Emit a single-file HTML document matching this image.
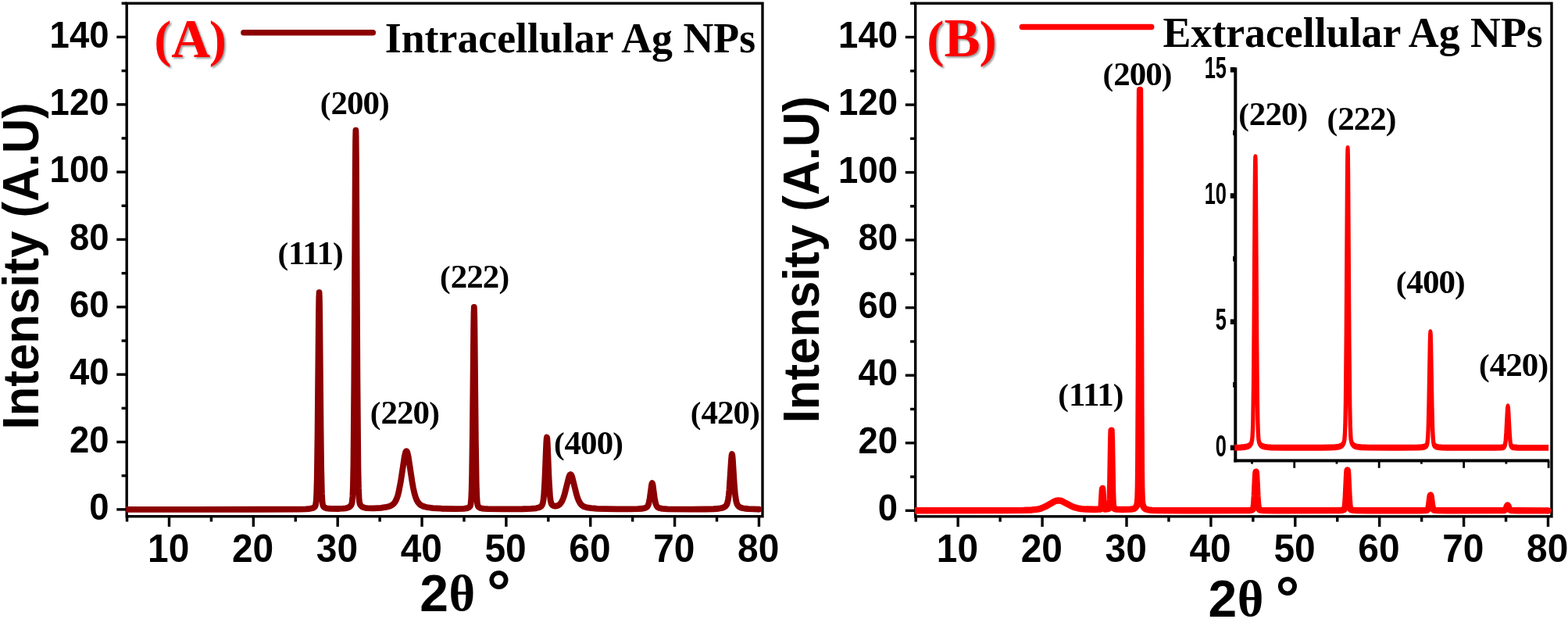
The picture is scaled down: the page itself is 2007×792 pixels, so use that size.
<!DOCTYPE html>
<html><head><meta charset="utf-8"><title>XRD patterns of Ag NPs</title>
<style>html,body{margin:0;padding:0;background:#fff;overflow:hidden;} svg{display:block;}</style></head>
<body>
<svg width="2007" height="792" viewBox="0 0 2007 792">
<defs><filter id="shadowblur" x="-10%" y="-10%" width="120%" height="120%"><feGaussianBlur stdDeviation="0.9"/></filter></defs>
<rect width="2007" height="792" fill="#fff"/>
<g stroke="#000" stroke-width="3.4" fill="none" stroke-linecap="butt">
<rect x="162.20" y="4.23" width="813.80" height="656.48"/>
<line x1="216.50" y1="660.7" x2="216.50" y2="673.9000000000001"/>
<line x1="324.35" y1="660.7" x2="324.35" y2="673.9000000000001"/>
<line x1="432.20" y1="660.7" x2="432.20" y2="673.9000000000001"/>
<line x1="540.05" y1="660.7" x2="540.05" y2="673.9000000000001"/>
<line x1="647.90" y1="660.7" x2="647.90" y2="673.9000000000001"/>
<line x1="755.75" y1="660.7" x2="755.75" y2="673.9000000000001"/>
<line x1="863.60" y1="660.7" x2="863.60" y2="673.9000000000001"/>
<line x1="971.45" y1="660.7" x2="971.45" y2="673.9000000000001"/>
<line x1="162.57" y1="660.7" x2="162.57" y2="667.5"/>
<line x1="270.42" y1="660.7" x2="270.42" y2="667.5"/>
<line x1="378.27" y1="660.7" x2="378.27" y2="667.5"/>
<line x1="486.12" y1="660.7" x2="486.12" y2="667.5"/>
<line x1="593.98" y1="660.7" x2="593.98" y2="667.5"/>
<line x1="701.83" y1="660.7" x2="701.83" y2="667.5"/>
<line x1="809.67" y1="660.7" x2="809.67" y2="667.5"/>
<line x1="917.52" y1="660.7" x2="917.52" y2="667.5"/>
<line x1="162.2" y1="651.85" x2="149.29999999999998" y2="651.85"/>
<line x1="162.2" y1="565.50" x2="149.29999999999998" y2="565.50"/>
<line x1="162.2" y1="479.15" x2="149.29999999999998" y2="479.15"/>
<line x1="162.2" y1="392.80" x2="149.29999999999998" y2="392.80"/>
<line x1="162.2" y1="306.45" x2="149.29999999999998" y2="306.45"/>
<line x1="162.2" y1="220.10" x2="149.29999999999998" y2="220.10"/>
<line x1="162.2" y1="133.75" x2="149.29999999999998" y2="133.75"/>
<line x1="162.2" y1="47.40" x2="149.29999999999998" y2="47.40"/>
<line x1="162.2" y1="608.68" x2="155.6" y2="608.68"/>
<line x1="162.2" y1="522.33" x2="155.6" y2="522.33"/>
<line x1="162.2" y1="435.98" x2="155.6" y2="435.98"/>
<line x1="162.2" y1="349.63" x2="155.6" y2="349.63"/>
<line x1="162.2" y1="263.28" x2="155.6" y2="263.28"/>
<line x1="162.2" y1="176.93" x2="155.6" y2="176.93"/>
<line x1="162.2" y1="90.58" x2="155.6" y2="90.58"/>
<line x1="162.2" y1="4.23" x2="155.6" y2="4.23"/>
</g>
<path d="M161.28 651.82 L329.85 651.75 L381.83 651.54 L391.54 651.29 L397.15 650.83 L400.71 649.94 L401.89 649.32 L402.86 648.49 L403.51 647.51 L404.05 645.88 L404.70 641.10 L405.24 631.50 L405.78 611.84 L406.53 558.10 L407.93 404.72 L408.26 382.28 L408.58 374.23 L408.90 382.28 L409.23 404.72 L410.52 547.63 L411.17 599.90 L411.92 631.46 L412.36 639.69 L412.79 644.02 L413.54 647.20 L414.19 648.29 L415.05 649.08 L416.35 649.79 L417.96 650.30 L422.60 650.90 L433.93 650.98 L438.78 650.72 L442.45 650.28 L444.93 649.69 L446.87 648.85 L448.38 647.69 L449.46 646.29 L450.10 644.87 L450.64 642.72 L451.40 635.01 L451.94 620.67 L452.48 590.58 L453.34 487.91 L454.74 219.85 L455.06 180.63 L455.39 166.56 L455.60 172.88 L455.93 204.37 L457.44 487.86 L458.41 598.23 L458.95 624.41 L459.59 638.07 L460.03 641.96 L460.56 644.42 L461.32 646.14 L462.51 647.62 L463.80 648.57 L465.42 649.29 L467.47 649.80 L470.06 650.13 L478.04 650.33 L487.53 649.81 L493.89 648.95 L498.74 647.69 L502.09 646.04 L503.49 644.93 L504.68 643.66 L506.29 641.23 L507.69 638.23 L509.10 634.16 L510.39 629.25 L512.98 615.78 L517.83 583.93 L519.02 578.96 L519.67 577.54 L520.21 577.16 L520.74 577.54 L521.39 578.96 L522.58 583.94 L527.54 616.45 L528.94 624.24 L530.34 630.61 L531.85 635.89 L533.47 639.99 L535.20 642.98 L537.25 645.26 L538.97 646.50 L540.91 647.45 L543.39 648.30 L546.31 648.99 L554.07 650.05 L564.96 650.73 L582.22 651.08 L593.76 650.80 L596.78 650.43 L598.94 649.86 L600.55 649.00 L601.63 647.81 L602.06 646.84 L602.50 645.08 L603.14 638.89 L603.68 626.79 L604.11 609.13 L604.87 554.52 L606.16 421.23 L606.49 400.30 L606.81 392.80 L607.13 400.31 L607.46 421.24 L608.86 564.28 L609.72 619.06 L610.26 635.12 L610.80 642.77 L611.23 645.67 L611.66 647.18 L612.31 648.33 L613.17 649.14 L614.79 649.97 L617.05 650.56 L620.07 650.94 L624.39 651.19 L643.26 651.42 L668.82 651.23 L679.39 650.88 L685.97 650.26 L690.18 649.23 L691.69 648.50 L692.87 647.57 L694.06 645.82 L694.92 643.13 L695.57 639.39 L696.22 633.21 L697.30 615.21 L699.24 567.21 L699.67 560.98 L699.99 559.46 L700.32 560.93 L700.75 567.10 L702.69 614.82 L703.98 635.01 L704.74 640.79 L705.60 644.17 L706.14 645.30 L706.79 646.14 L708.51 647.20 L709.91 647.50 L711.53 647.52 L713.15 647.21 L714.66 646.59 L715.85 645.82 L717.03 644.73 L719.19 641.61 L720.91 637.75 L722.64 632.49 L728.14 610.57 L729.22 607.90 L729.76 607.19 L730.30 606.95 L730.84 607.20 L731.38 607.93 L732.45 610.63 L737.85 632.34 L739.46 637.47 L741.08 641.37 L742.92 644.46 L745.07 646.74 L747.66 648.28 L751.11 649.35 L756.72 650.21 L764.49 650.81 L775.27 651.19 L790.05 651.40 L806.12 651.42 L816.36 651.22 L822.29 650.76 L826.07 649.91 L827.58 649.12 L828.66 648.06 L829.63 646.34 L830.38 644.15 L831.78 637.14 L833.94 620.96 L834.37 618.91 L834.80 618.17 L835.24 618.91 L835.67 620.96 L837.82 637.15 L839.23 644.16 L839.98 646.36 L840.95 648.08 L842.14 649.22 L843.76 650.02 L847.75 650.86 L854.32 651.33 L885.28 651.61 L902.43 651.50 L913.10 651.24 L919.90 650.74 L924.43 649.90 L927.45 648.61 L928.53 647.80 L929.50 646.72 L930.25 645.45 L930.90 643.86 L931.98 639.40 L932.73 634.19 L933.49 626.61 L935.97 588.34 L936.51 582.60 L936.94 581.04 L937.37 582.60 L937.80 586.93 L939.74 618.03 L940.82 631.26 L942.11 640.54 L942.76 643.19 L943.62 645.46 L944.70 647.14 L946.21 648.48 L948.15 649.48 L950.74 650.24 L953.87 650.75 L958.08 651.12 L971.45 651.55" fill="none" stroke="#8b0000" stroke-width="7.8" stroke-linejoin="round" stroke-linecap="butt"/>
<circle cx="971.45" cy="651.55" r="3.9" fill="#8b0000"/>
<text x="0" y="0" text-anchor="end" transform="translate(139.50 664.95) scale(0.944 1)" font-family="'Liberation Sans', Arial, sans-serif" font-weight="bold" font-size="48.2" fill="#000">0</text>
<text x="0" y="0" text-anchor="end" transform="translate(139.50 578.60) scale(0.944 1)" font-family="'Liberation Sans', Arial, sans-serif" font-weight="bold" font-size="48.2" fill="#000">20</text>
<text x="0" y="0" text-anchor="end" transform="translate(139.50 492.25) scale(0.944 1)" font-family="'Liberation Sans', Arial, sans-serif" font-weight="bold" font-size="48.2" fill="#000">40</text>
<text x="0" y="0" text-anchor="end" transform="translate(139.50 405.90) scale(0.944 1)" font-family="'Liberation Sans', Arial, sans-serif" font-weight="bold" font-size="48.2" fill="#000">60</text>
<text x="0" y="0" text-anchor="end" transform="translate(139.50 319.55) scale(0.944 1)" font-family="'Liberation Sans', Arial, sans-serif" font-weight="bold" font-size="48.2" fill="#000">80</text>
<text x="0" y="0" text-anchor="end" transform="translate(139.50 233.20) scale(0.944 1)" font-family="'Liberation Sans', Arial, sans-serif" font-weight="bold" font-size="48.2" fill="#000">100</text>
<text x="0" y="0" text-anchor="end" transform="translate(139.50 146.85) scale(0.944 1)" font-family="'Liberation Sans', Arial, sans-serif" font-weight="bold" font-size="48.2" fill="#000">120</text>
<text x="0" y="0" text-anchor="end" transform="translate(139.50 60.50) scale(0.944 1)" font-family="'Liberation Sans', Arial, sans-serif" font-weight="bold" font-size="48.2" fill="#000">140</text>
<text x="0" y="0" text-anchor="middle" transform="translate(215.70 719.00) scale(0.965 1)" font-family="'Liberation Sans', Arial, sans-serif" font-weight="bold" font-size="49.6" fill="#000">10</text>
<text x="0" y="0" text-anchor="middle" transform="translate(323.55 719.00) scale(0.965 1)" font-family="'Liberation Sans', Arial, sans-serif" font-weight="bold" font-size="49.6" fill="#000">20</text>
<text x="0" y="0" text-anchor="middle" transform="translate(431.40 719.00) scale(0.965 1)" font-family="'Liberation Sans', Arial, sans-serif" font-weight="bold" font-size="49.6" fill="#000">30</text>
<text x="0" y="0" text-anchor="middle" transform="translate(539.25 719.00) scale(0.965 1)" font-family="'Liberation Sans', Arial, sans-serif" font-weight="bold" font-size="49.6" fill="#000">40</text>
<text x="0" y="0" text-anchor="middle" transform="translate(647.10 719.00) scale(0.965 1)" font-family="'Liberation Sans', Arial, sans-serif" font-weight="bold" font-size="49.6" fill="#000">50</text>
<text x="0" y="0" text-anchor="middle" transform="translate(754.95 719.00) scale(0.965 1)" font-family="'Liberation Sans', Arial, sans-serif" font-weight="bold" font-size="49.6" fill="#000">60</text>
<text x="0" y="0" text-anchor="middle" transform="translate(862.80 719.00) scale(0.965 1)" font-family="'Liberation Sans', Arial, sans-serif" font-weight="bold" font-size="49.6" fill="#000">70</text>
<text x="0" y="0" text-anchor="middle" transform="translate(970.65 719.00) scale(0.965 1)" font-family="'Liberation Sans', Arial, sans-serif" font-weight="bold" font-size="49.6" fill="#000">80</text>
<text x="0" y="0" transform="translate(49.0 549.5) rotate(-90) scale(0.96 1)" font-family="'Liberation Sans', Arial, sans-serif" font-weight="bold" font-size="64.3">Intensity (A.U)</text>
<text font-family="'Liberation Sans', Arial, sans-serif" font-weight="bold" fill="#000"><tspan x="537.3" y="781.6" font-size="66">2</tspan><tspan x="574.4" y="781.2" font-family="'Liberation Serif', 'Times New Roman', serif" font-size="64.6">θ </tspan><tspan x="623.0" y="784.1" font-size="77">°</tspan></text>
<line x1="311.9" y1="41.8" x2="477.3" y2="41.8" stroke="#8b0000" stroke-width="7.5" stroke-linecap="round"/>
<text x="0" y="0" transform="translate(492.70 67.00) scale(0.97 1)" font-family="'Liberation Serif', 'Times New Roman', serif" font-weight="bold" font-size="55.5" fill="#000">Intracellular Ag NPs</text>
<text font-family="'Liberation Serif', 'Times New Roman', serif" font-weight="bold" fill="#7a7a7a" opacity="0.75" filter="url(#shadowblur)"><tspan x="199.30" y="73.70" font-size="66.5">(</tspan><tspan x="221.30" y="74.50" font-size="69">A</tspan><tspan x="269.75" y="73.70" font-size="66.5">)</tspan></text>
<text font-family="'Liberation Serif', 'Times New Roman', serif" font-weight="bold" fill="#ff0000"><tspan x="197.30" y="71.70" font-size="66.5">(</tspan><tspan x="219.30" y="72.50" font-size="69">A</tspan><tspan x="267.75" y="71.70" font-size="66.5">)</tspan></text>
<text x="0" y="0" text-anchor="middle" transform="translate(397.55 338.30)" font-family="'Liberation Serif', 'Times New Roman', serif" font-weight="bold" font-size="41" fill="#000">(<tspan font-size="43" letter-spacing="-0.95">111</tspan>)</text>
<text x="0" y="0" text-anchor="middle" transform="translate(454.25 145.50)" font-family="'Liberation Serif', 'Times New Roman', serif" font-weight="bold" font-size="41" fill="#000">(<tspan font-size="43" letter-spacing="-0.95">200</tspan>)</text>
<text x="0" y="0" text-anchor="middle" transform="translate(518.30 542.10)" font-family="'Liberation Serif', 'Times New Roman', serif" font-weight="bold" font-size="41" fill="#000">(<tspan font-size="43" letter-spacing="-0.95">220</tspan>)</text>
<text x="0" y="0" text-anchor="middle" transform="translate(607.55 368.00)" font-family="'Liberation Serif', 'Times New Roman', serif" font-weight="bold" font-size="41" fill="#000">(<tspan font-size="43" letter-spacing="-0.95">222</tspan>)</text>
<text x="0" y="0" text-anchor="middle" transform="translate(753.40 581.00)" font-family="'Liberation Serif', 'Times New Roman', serif" font-weight="bold" font-size="41" fill="#000">(<tspan font-size="43" letter-spacing="-0.95">400</tspan>)</text>
<text x="0" y="0" text-anchor="middle" transform="translate(928.30 542.10)" font-family="'Liberation Serif', 'Times New Roman', serif" font-weight="bold" font-size="41" fill="#000">(<tspan font-size="43" letter-spacing="-0.95">420</tspan>)</text>
<g stroke="#000" stroke-width="3.4" fill="none" stroke-linecap="butt">
<rect x="1171.70" y="4.25" width="814.30" height="656.55"/>
<line x1="1226.20" y1="660.8" x2="1226.20" y2="674.0"/>
<line x1="1334.10" y1="660.8" x2="1334.10" y2="674.0"/>
<line x1="1442.00" y1="660.8" x2="1442.00" y2="674.0"/>
<line x1="1549.90" y1="660.8" x2="1549.90" y2="674.0"/>
<line x1="1657.80" y1="660.8" x2="1657.80" y2="674.0"/>
<line x1="1765.70" y1="660.8" x2="1765.70" y2="674.0"/>
<line x1="1873.60" y1="660.8" x2="1873.60" y2="674.0"/>
<line x1="1981.50" y1="660.8" x2="1981.50" y2="674.0"/>
<line x1="1172.25" y1="660.8" x2="1172.25" y2="667.5999999999999"/>
<line x1="1280.15" y1="660.8" x2="1280.15" y2="667.5999999999999"/>
<line x1="1388.05" y1="660.8" x2="1388.05" y2="667.5999999999999"/>
<line x1="1495.95" y1="660.8" x2="1495.95" y2="667.5999999999999"/>
<line x1="1603.85" y1="660.8" x2="1603.85" y2="667.5999999999999"/>
<line x1="1711.75" y1="660.8" x2="1711.75" y2="667.5999999999999"/>
<line x1="1819.65" y1="660.8" x2="1819.65" y2="667.5999999999999"/>
<line x1="1927.55" y1="660.8" x2="1927.55" y2="667.5999999999999"/>
<line x1="1171.7" y1="653.30" x2="1158.8" y2="653.30"/>
<line x1="1171.7" y1="566.76" x2="1158.8" y2="566.76"/>
<line x1="1171.7" y1="480.22" x2="1158.8" y2="480.22"/>
<line x1="1171.7" y1="393.68" x2="1158.8" y2="393.68"/>
<line x1="1171.7" y1="307.14" x2="1158.8" y2="307.14"/>
<line x1="1171.7" y1="220.60" x2="1158.8" y2="220.60"/>
<line x1="1171.7" y1="134.06" x2="1158.8" y2="134.06"/>
<line x1="1171.7" y1="47.52" x2="1158.8" y2="47.52"/>
<line x1="1171.7" y1="610.03" x2="1165.1000000000001" y2="610.03"/>
<line x1="1171.7" y1="523.49" x2="1165.1000000000001" y2="523.49"/>
<line x1="1171.7" y1="436.95" x2="1165.1000000000001" y2="436.95"/>
<line x1="1171.7" y1="350.41" x2="1165.1000000000001" y2="350.41"/>
<line x1="1171.7" y1="263.87" x2="1165.1000000000001" y2="263.87"/>
<line x1="1171.7" y1="177.33" x2="1165.1000000000001" y2="177.33"/>
<line x1="1171.7" y1="90.79" x2="1165.1000000000001" y2="90.79"/>
<line x1="1171.7" y1="4.25" x2="1165.1000000000001" y2="4.25"/>
</g>
<path d="M1170.96 653.27 L1287.49 653.11 L1309.82 652.89 L1320.83 652.48 L1327.95 651.62 L1330.97 650.94 L1333.78 650.07 L1339.17 647.64 L1349.53 641.64 L1352.23 640.64 L1354.82 640.29 L1357.08 640.53 L1359.56 641.31 L1371.97 647.81 L1375.75 649.27 L1379.63 650.32 L1384.38 651.07 L1390.32 651.52 L1401.00 651.77 L1407.90 651.65 L1408.66 651.46 L1409.09 650.93 L1409.63 648.27 L1410.82 627.54 L1411.14 624.96 L1411.46 627.53 L1412.44 645.87 L1412.97 650.22 L1413.41 651.21 L1414.05 651.50 L1416.54 651.46 L1418.48 651.03 L1419.45 650.32 L1419.99 648.84 L1420.42 645.15 L1420.74 638.96 L1421.28 617.56 L1422.15 562.79 L1422.58 550.53 L1423.01 562.80 L1424.20 632.29 L1424.74 645.16 L1425.38 649.69 L1425.81 650.49 L1426.46 650.96 L1427.65 651.36 L1429.38 651.62 L1436.60 651.83 L1446.42 651.66 L1449.66 651.32 L1451.82 650.68 L1453.33 649.67 L1454.52 648.04 L1455.27 646.12 L1455.81 643.76 L1456.46 636.49 L1456.89 620.73 L1457.21 593.05 L1457.75 488.63 L1458.72 157.48 L1459.05 114.82 L1459.48 187.68 L1460.45 516.80 L1460.99 604.64 L1461.31 626.49 L1461.85 640.26 L1462.29 644.03 L1462.82 646.43 L1463.69 648.62 L1464.77 650.14 L1465.74 650.95 L1466.82 651.53 L1469.84 652.34 L1474.59 652.81 L1482.46 653.06 L1514.08 653.23 L1586.80 653.22 L1597.92 653.04 L1600.61 652.84 L1602.45 652.49 L1603.42 651.96 L1604.07 650.92 L1604.61 648.80 L1605.04 645.56 L1605.79 634.94 L1607.09 608.03 L1607.41 604.30 L1607.63 603.54 L1607.84 604.30 L1608.17 608.03 L1609.46 634.94 L1610.22 645.56 L1611.08 650.62 L1611.62 651.72 L1612.48 652.37 L1614.42 652.81 L1617.66 653.06 L1632.77 653.25 L1705.60 653.22 L1714.45 653.07 L1718.66 652.68 L1720.17 652.17 L1720.92 651.31 L1721.57 649.21 L1722.00 646.26 L1722.76 636.17 L1724.16 606.06 L1724.48 602.17 L1724.70 601.38 L1724.91 602.17 L1725.24 606.06 L1726.64 636.17 L1727.40 646.26 L1727.83 649.21 L1728.47 651.31 L1729.23 652.17 L1730.63 652.66 L1736.46 653.12 L1751.67 653.26 L1815.23 653.25 L1822.78 653.15 L1826.12 652.89 L1826.99 652.57 L1827.53 652.06 L1828.39 649.92 L1829.15 645.79 L1830.44 635.62 L1830.76 633.98 L1831.09 633.40 L1831.41 633.98 L1831.73 635.62 L1833.03 645.80 L1833.89 650.32 L1834.32 651.50 L1834.86 652.31 L1835.51 652.73 L1836.48 652.96 L1841.12 653.19 L1852.45 653.27 L1924.53 653.15 L1925.93 652.85 L1926.90 652.03 L1927.66 650.64 L1929.06 647.06 L1929.71 646.38 L1930.36 647.06 L1931.76 650.64 L1932.51 652.03 L1933.38 652.80 L1934.46 653.10 L1942.22 653.27 L1981.50 653.29" fill="none" stroke="#ff0000" stroke-width="8.3" stroke-linejoin="round" stroke-linecap="butt"/>
<circle cx="1981.50" cy="653.29" r="4.15" fill="#ff0000"/>
<text x="0" y="0" text-anchor="end" transform="translate(1149.00 666.40) scale(0.944 1)" font-family="'Liberation Sans', Arial, sans-serif" font-weight="bold" font-size="48.2" fill="#000">0</text>
<text x="0" y="0" text-anchor="end" transform="translate(1149.00 579.86) scale(0.944 1)" font-family="'Liberation Sans', Arial, sans-serif" font-weight="bold" font-size="48.2" fill="#000">20</text>
<text x="0" y="0" text-anchor="end" transform="translate(1149.00 493.32) scale(0.944 1)" font-family="'Liberation Sans', Arial, sans-serif" font-weight="bold" font-size="48.2" fill="#000">40</text>
<text x="0" y="0" text-anchor="end" transform="translate(1149.00 406.78) scale(0.944 1)" font-family="'Liberation Sans', Arial, sans-serif" font-weight="bold" font-size="48.2" fill="#000">60</text>
<text x="0" y="0" text-anchor="end" transform="translate(1149.00 320.24) scale(0.944 1)" font-family="'Liberation Sans', Arial, sans-serif" font-weight="bold" font-size="48.2" fill="#000">80</text>
<text x="0" y="0" text-anchor="end" transform="translate(1149.00 233.70) scale(0.944 1)" font-family="'Liberation Sans', Arial, sans-serif" font-weight="bold" font-size="48.2" fill="#000">100</text>
<text x="0" y="0" text-anchor="end" transform="translate(1149.00 147.16) scale(0.944 1)" font-family="'Liberation Sans', Arial, sans-serif" font-weight="bold" font-size="48.2" fill="#000">120</text>
<text x="0" y="0" text-anchor="end" transform="translate(1149.00 60.62) scale(0.944 1)" font-family="'Liberation Sans', Arial, sans-serif" font-weight="bold" font-size="48.2" fill="#000">140</text>
<text x="0" y="0" text-anchor="middle" transform="translate(1225.40 719.10) scale(0.965 1)" font-family="'Liberation Sans', Arial, sans-serif" font-weight="bold" font-size="49.6" fill="#000">10</text>
<text x="0" y="0" text-anchor="middle" transform="translate(1333.30 719.10) scale(0.965 1)" font-family="'Liberation Sans', Arial, sans-serif" font-weight="bold" font-size="49.6" fill="#000">20</text>
<text x="0" y="0" text-anchor="middle" transform="translate(1441.20 719.10) scale(0.965 1)" font-family="'Liberation Sans', Arial, sans-serif" font-weight="bold" font-size="49.6" fill="#000">30</text>
<text x="0" y="0" text-anchor="middle" transform="translate(1549.10 719.10) scale(0.965 1)" font-family="'Liberation Sans', Arial, sans-serif" font-weight="bold" font-size="49.6" fill="#000">40</text>
<text x="0" y="0" text-anchor="middle" transform="translate(1657.00 719.10) scale(0.965 1)" font-family="'Liberation Sans', Arial, sans-serif" font-weight="bold" font-size="49.6" fill="#000">50</text>
<text x="0" y="0" text-anchor="middle" transform="translate(1764.90 719.10) scale(0.965 1)" font-family="'Liberation Sans', Arial, sans-serif" font-weight="bold" font-size="49.6" fill="#000">60</text>
<text x="0" y="0" text-anchor="middle" transform="translate(1872.80 719.10) scale(0.965 1)" font-family="'Liberation Sans', Arial, sans-serif" font-weight="bold" font-size="49.6" fill="#000">70</text>
<text x="0" y="0" text-anchor="middle" transform="translate(1980.70 719.10) scale(0.965 1)" font-family="'Liberation Sans', Arial, sans-serif" font-weight="bold" font-size="49.6" fill="#000">80</text>
<text x="0" y="0" transform="translate(1048.0 541.3) rotate(-90) scale(0.96 1)" font-family="'Liberation Sans', Arial, sans-serif" font-weight="bold" font-size="64.3">Intensity (A.U)</text>
<text font-family="'Liberation Sans', Arial, sans-serif" font-weight="bold" fill="#000"><tspan x="1546.6" y="788.6" font-size="66">2</tspan><tspan x="1583.8" y="788.0" font-family="'Liberation Serif', 'Times New Roman', serif" font-size="64.6">θ </tspan><tspan x="1632.4" y="792.1" font-size="77">°</tspan></text>
<line x1="1308.4" y1="34.4" x2="1473.7" y2="34.4" stroke="#ff0000" stroke-width="7.5" stroke-linecap="round"/>
<text x="0" y="0" transform="translate(1488.40 60.00) scale(0.97 1)" font-family="'Liberation Serif', 'Times New Roman', serif" font-weight="bold" font-size="55.5" fill="#000">Extracellular Ag NPs</text>
<text font-family="'Liberation Serif', 'Times New Roman', serif" font-weight="bold" fill="#7a7a7a" opacity="0.75" filter="url(#shadowblur)"><tspan x="1188.30" y="73.70" font-size="66.5">(</tspan><tspan x="1210.50" y="74.30" font-size="69">B</tspan><tspan x="1255.60" y="73.70" font-size="66.5">)</tspan></text>
<text font-family="'Liberation Serif', 'Times New Roman', serif" font-weight="bold" fill="#ff0000"><tspan x="1186.30" y="71.70" font-size="66.5">(</tspan><tspan x="1208.50" y="72.30" font-size="69">B</tspan><tspan x="1253.60" y="71.70" font-size="66.5">)</tspan></text>
<text x="0" y="0" text-anchor="middle" transform="translate(1396.35 519.40)" font-family="'Liberation Serif', 'Times New Roman', serif" font-weight="bold" font-size="41" fill="#000">(<tspan font-size="43" letter-spacing="-0.95">111</tspan>)</text>
<text x="0" y="0" text-anchor="middle" transform="translate(1456.00 109.30)" font-family="'Liberation Serif', 'Times New Roman', serif" font-weight="bold" font-size="41" fill="#000">(<tspan font-size="43" letter-spacing="-0.95">200</tspan>)</text>
<g fill="#000">
<rect x="1579.30" y="86.4" width="4" height="505.00"/>
<rect x="1579.30" y="587.40" width="403.90" height="4"/>
<rect x="1574.8" y="569.60" width="6.50" height="6.6"/>
<rect x="1574.8" y="408.40" width="6.50" height="6.6"/>
<rect x="1574.8" y="247.20" width="6.50" height="6.6"/>
<rect x="1574.8" y="86.00" width="6.50" height="6.6"/>
<rect x="1578.1" y="489.00" width="3.20" height="6.6"/>
<rect x="1578.1" y="327.80" width="3.20" height="6.6"/>
<rect x="1578.1" y="166.60" width="3.20" height="6.6"/>
<rect x="1655.33" y="589.40" width="2.8" height="9.40"/>
<rect x="1763.79" y="589.40" width="2.8" height="9.40"/>
<rect x="1872.25" y="589.40" width="2.8" height="9.40"/>
<rect x="1980.71" y="589.40" width="2.8" height="9.40"/>
<rect x="1601.10" y="589.40" width="2.8" height="4.20"/>
<rect x="1709.56" y="589.40" width="2.8" height="4.20"/>
<rect x="1818.02" y="589.40" width="2.8" height="4.20"/>
<rect x="1926.48" y="589.40" width="2.8" height="4.20"/>
</g>
<g transform="scale(1 1.5)"><path d="M1580.27 381.77 L1587.91 381.61 L1592.90 381.34 L1596.32 380.91 L1598.76 380.23 L1600.55 379.19 L1601.25 378.50 L1601.80 377.71 L1602.55 375.60 L1603.04 372.48 L1603.48 366.90 L1603.86 358.05 L1604.51 328.51 L1605.10 280.26 L1606.24 160.85 L1606.57 139.98 L1606.84 134.12 L1607.11 139.98 L1607.43 160.85 L1608.68 290.55 L1609.39 340.82 L1609.77 356.37 L1610.25 367.82 L1610.85 374.15 L1611.23 376.03 L1611.66 377.28 L1612.64 378.74 L1614.05 379.82 L1615.95 380.58 L1618.55 381.10 L1622.02 381.43 L1626.90 381.64 L1644.91 381.83 L1691.22 381.81 L1702.23 381.69 L1708.95 381.47 L1713.45 381.06 L1716.44 380.38 L1717.58 379.90 L1718.55 379.28 L1719.37 378.52 L1719.96 377.68 L1720.50 376.41 L1720.94 374.58 L1721.53 369.05 L1722.02 358.94 L1722.46 342.32 L1723.22 287.78 L1724.46 154.14 L1724.79 132.64 L1725.06 126.59 L1725.33 132.64 L1725.60 149.65 L1726.96 292.84 L1727.77 347.33 L1728.26 363.12 L1728.86 372.19 L1729.18 374.58 L1729.62 376.41 L1730.21 377.77 L1731.03 378.81 L1732.06 379.62 L1733.30 380.24 L1734.82 380.71 L1736.77 381.08 L1742.30 381.53 L1751.74 381.75 L1789.81 381.87 L1814.81 381.72 L1819.42 381.53 L1822.46 381.21 L1824.57 380.70 L1825.87 379.96 L1826.31 379.44 L1826.69 378.65 L1827.28 376.15 L1827.77 371.86 L1828.21 365.23 L1828.96 344.83 L1830.32 292.83 L1830.65 285.53 L1830.92 283.49 L1831.19 285.53 L1831.51 292.83 L1832.92 346.68 L1833.68 366.24 L1834.12 372.48 L1834.66 376.78 L1835.31 379.04 L1835.74 379.73 L1836.34 380.26 L1838.18 380.98 L1841.00 381.42 L1845.29 381.67 L1852.34 381.81 L1913.29 381.85 L1921.26 381.66 L1923.49 381.46 L1924.79 381.19 L1925.66 380.65 L1926.25 379.70 L1926.74 378.15 L1927.18 375.87 L1927.93 369.10 L1929.40 350.37 L1929.72 347.81 L1930.05 346.90 L1930.37 347.81 L1930.70 350.37 L1932.11 368.47 L1932.81 375.13 L1933.19 377.42 L1933.63 379.12 L1934.12 380.22 L1934.77 380.92 L1935.58 381.27 L1936.99 381.51 L1942.52 381.79 L1982.11 381.92" fill="none" stroke="#ff0000" stroke-width="5.3" stroke-linejoin="round" stroke-linecap="butt"/></g>
<text x="0" y="0" text-anchor="end" transform="translate(1570.00 100.00) scale(0.64 1)" font-family="'Liberation Sans', Arial, sans-serif" font-weight="bold" font-size="39.7" fill="#000">15</text>
<text x="0" y="0" text-anchor="end" transform="translate(1570.00 261.20) scale(0.64 1)" font-family="'Liberation Sans', Arial, sans-serif" font-weight="bold" font-size="39.7" fill="#000">10</text>
<text x="0" y="0" text-anchor="end" transform="translate(1570.00 422.40) scale(0.64 1)" font-family="'Liberation Sans', Arial, sans-serif" font-weight="bold" font-size="39.7" fill="#000">5</text>
<text x="0" y="0" text-anchor="end" transform="translate(1570.00 584.00) scale(0.64 1)" font-family="'Liberation Sans', Arial, sans-serif" font-weight="bold" font-size="39.7" fill="#000">0</text>
<text x="0" y="0" text-anchor="middle" transform="translate(1629.70 159.80)" font-family="'Liberation Serif', 'Times New Roman', serif" font-weight="bold" font-size="41" fill="#000">(<tspan font-size="43" letter-spacing="-0.95">220</tspan>)</text>
<text x="0" y="0" text-anchor="middle" transform="translate(1743.00 166.30)" font-family="'Liberation Serif', 'Times New Roman', serif" font-weight="bold" font-size="41" fill="#000">(<tspan font-size="43" letter-spacing="-0.95">222</tspan>)</text>
<text x="0" y="0" text-anchor="middle" transform="translate(1831.20 375.10)" font-family="'Liberation Serif', 'Times New Roman', serif" font-weight="bold" font-size="41" fill="#000">(<tspan font-size="43" letter-spacing="-0.95">400</tspan>)</text>
<text x="0" y="0" text-anchor="middle" transform="translate(1937.60 481.20)" font-family="'Liberation Serif', 'Times New Roman', serif" font-weight="bold" font-size="41" fill="#000">(<tspan font-size="43" letter-spacing="-0.95">420</tspan>)</text>
</svg>
</body></html>
